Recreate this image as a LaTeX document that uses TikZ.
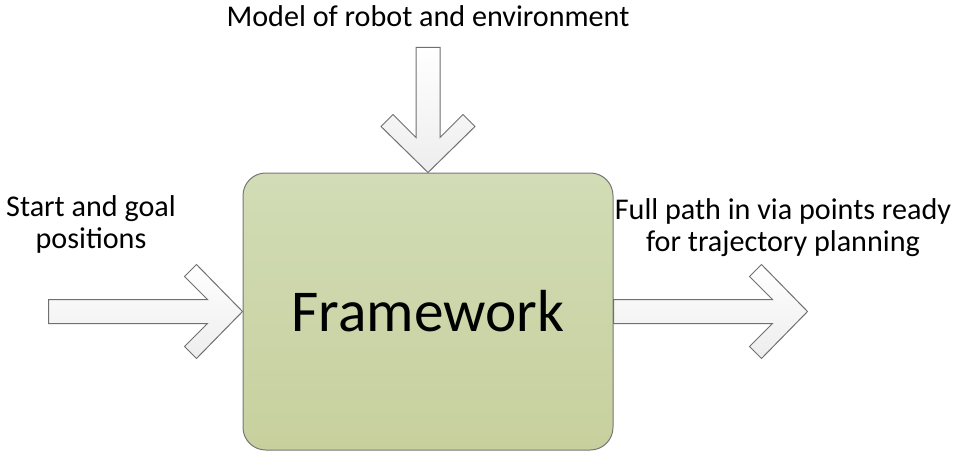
\documentclass[tikz,border=0pt]{standalone}
\usepackage{fontspec}
\setmainfont{Carlito}
\usetikzlibrary{positioning}
\definecolor{boxtop}{RGB}{210,220,182}
\definecolor{boxbottom}{RGB}{199,208,157}
\definecolor{boxedge}{RGB}{118,118,118}
\definecolor{arrowedge}{RGB}{112,112,112}

% block arrow with its tip at #1, turned by #2, #3 long
\newcommand{\blockarrow}[3]{%
  \draw[block arrow,shift={(#1)},rotate=#2]
    (-#3,-12) -- (-35,-12) -- (-58,-35) -- (-46,-47) -- (0,0)
    -- (-46,47) -- (-58,35) -- (-35,12) -- (-#3,12) -- cycle;}

\begin{document}
\begin{tikzpicture}[x=0.75pt,y=-0.75pt,
    frame box/.style={draw=boxedge,line width=0.75pt,rounded corners=17pt,
      top color=boxtop,bottom color=boxbottom,minimum width=277.5pt,
      minimum height=207.75pt,inner sep=0pt,font=\fontsize{44.5}{50}\selectfont},
    block arrow/.style={draw=arrowedge,line width=0.75pt,line join=miter,
      top color=white,bottom color=gray!14},
    label text/.style={inner sep=0pt,font=\fontsize{22.6}{23.5}\selectfont}]
  \useasboundingbox (0,0) rectangle (956,453);

  \node[frame box] (fw) at (428,311.5) {Framework};
  \coordinate[right=145.5pt of fw.east] (goal);

  \blockarrow{fw.north}{-90}{125}
  \blockarrow{fw.west}{0}{194}
  \blockarrow{goal}{0}{194}

  \node[label text,anchor=base] (model) at (428,27) {Model of robot and environment};
  \node[label text,align=center,anchor=base] (start) at (91,248) {Start and goal\\positions};
  \node[label text,align=center,anchor=base] (result) at (783,251) {Full path in via points ready\\for trajectory planning};
\end{tikzpicture}
\end{document}
